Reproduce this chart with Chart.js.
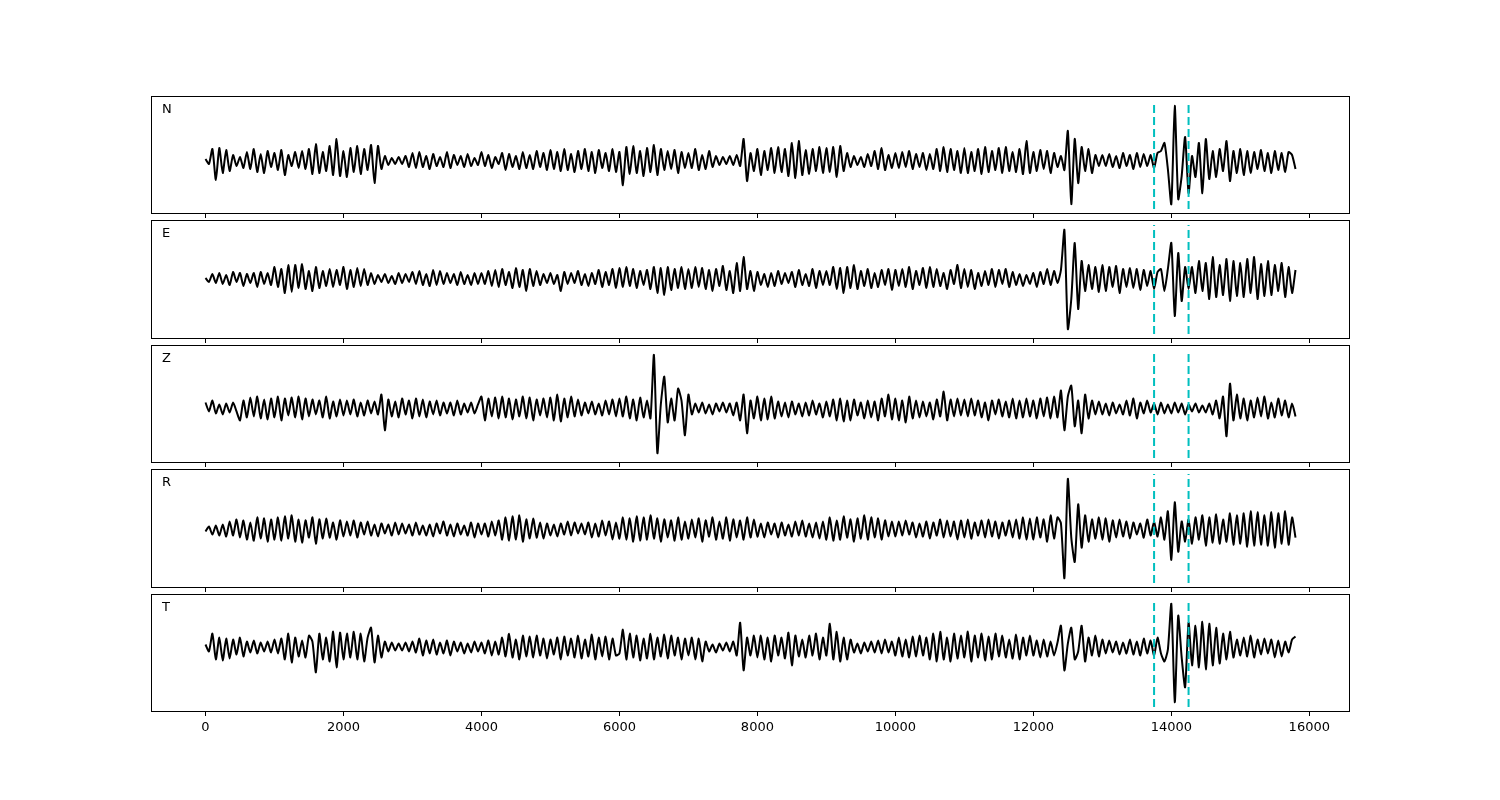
<!DOCTYPE html>
<html>
<head>
<meta charset="utf-8">
<script src="https://cdn.jsdelivr.net/npm/chart.js@4.4.0/dist/chart.umd.min.js"></script>
<style>
  body { margin: 0; background: #fff; }
  .panel { position: absolute; left: 0; width: 1500px; }
</style>
</head>
<body>
<script>
// sample spacing of the traces (x units)
const step = 50;
const channels = ['N', 'E', 'Z', 'R', 'T'];
const pickTimes = [13750, 14250];
const tickValues = [0, 2000, 4000, 6000, 8000, 10000, 12000, 14000, 16000];

// amplitudes, one row per 1000 x units
const traceN = [
  2, -3, 12, -19, 13, -12, 11, -10, 6, -5, 4, -7, 9, -8, 12, -11, 7, -12, 10, -6,
  8, -9, 11, -14, 6, -5, 9, -7, 10, -8, 12, -13, 17, -12, 9, -10, 15, -14, 22, -15,
  10, -16, 13, -11, 15, -13, 12, -9, 16, -22, 15, -8, 5, -4, 3, -3, 4, -3, 5, -6,
  8, -7, 9, -6, 5, -8, 7, -5, 4, -6, 9, -7, 6, -4, 5, -6, 7, -5, 3, -4,
  9, -5, 6, -7, 4, -3, 8, -9, 7, -6, 5, -8, 9, -7, 6, -8, 10, -6, 8, -9,
  11, -8, 9, -10, 12, -9, 7, -11, 10, -8, 12, -10, 9, -12, 11, -7, 8, -10, 12, -11,
  9, -24, 14, -13, 15, -12, 10, -15, 13, -11, 16, -14, 12, -9, 10, -8, 11, -12, 9, -7,
  8, -7, 12, -9, 6, -8, 10, -6, 5, -4, 4, -3, 5, -4, 6, -5, 22, -20, 8, -10,
  12, -14, 10, -9, 13, -12, 14, -11, 12, -15, 18, -17, 20, -14, 11, -13, 12, -10, 14, -12,
  13, -11, 14, -16, 15, -10, 8, -6, 5, -4, 4, -6, 7, -5, 10, -8, 13, -9, 6, -7,
  8, -7, 9, -6, 10, -8, 7, -6, 8, -9, 7, -8, 12, -10, 14, -11, 12, -9, 10, -12,
  13, -12, 9, -10, 12, -13, 14, -11, 10, -9, 13, -12, 14, -10, 9, -11, 12, -13, 20, -12,
  9, -10, 11, -8, 10, -12, 8, -6, 5, -9, 30, -43, 22, -22, 14, -10, 12, -12, 6, -5,
  6, -5, 7, -6, 5, -7, 8, -5, 6, -8, 8, -6, 7, -5, 6, -7, 8, 10, 18, -8,
  -43, 55, -38, -15, 24, -32, 5, -16, 18, -32, 22, -18, 10, -16, 12, -10, 20, -20, 10, -12,
  12, -14, 10, -12, 9, -8, 11, -10, 8, -12, 10, -9, 8, -11, 9, 6, -8
];

const traceE = [
  1, -3, 5, -4, 6, -5, 4, -6, 7, -3, 6, -7, 5, -4, 6, -8, 7, -5, 6, -6,
  12, -8, 10, -14, 14, -13, 14, -9, 15, -10, 8, -12, 12, -9, 8, -7, 10, -8, 9, -6,
  12, -10, 9, -8, 11, -7, 10, -6, 6, -5, 4, -3, 5, -4, 3, -5, 6, -4, 5, -3,
  7, -5, 8, -6, 5, -7, 9, -6, 8, -5, 6, -4, 5, -6, 7, -5, 4, -6, 6, -5,
  6, -5, 8, -7, 9, -8, 10, -6, 7, -9, 11, -8, 9, -12, 10, -7, 8, -6, 5, -4,
  6, -5, 4, -12, 7, -5, 6, -4, 8, -6, 5, -7, 6, -5, 9, -8, 7, -6, 10, -9,
  11, -8, 12, -7, 10, -9, 8, -6, 9, -10, 12, -14, 11, -16, 12, -11, 10, -9, 12, -10,
  10, -9, 12, -8, 11, -10, 9, -12, 10, -7, 13, -11, 8, -14, 16, -12, 22, -10, 8, -12,
  7, -6, 5, -8, 6, -7, 8, -5, 6, -4, 7, -8, 9, -6, 5, -7, 10, -9, 8, -6,
  8, -6, 12, -10, 11, -14, 12, -9, 14, -10, 8, -7, 10, -9, 6, -8, 9, -6, 10, -11,
  9, -7, 10, -8, 12, -10, 8, -6, 11, -9, 12, -8, 10, -7, 6, -10, 9, -5, 14, -9,
  10, -8, 9, -10, 6, -7, 8, -6, 10, -8, 9, -5, 10, -8, 7, -6, 5, -7, 4, -5,
  6, -8, 7, -5, 10, -6, 8, -4, 9, 49, -50, -20, 36, -30, 18, -12, 14, -10, 12, -13,
  14, -12, 12, -8, 13, -14, 10, -8, 11, -9, 10, -11, 9, -7, 8, -10, 7, 10, -12, 10,
  36, -37, 26, -22, 12, -10, 12, -14, 18, -12, 16, -20, 22, -18, 14, -16, 20, -22, 18, -17,
  16, -18, 20, -14, 22, -20, 15, -17, 18, -16, 14, -12, 16, -18, 12, -14, 9
];

const traceZ = [
  6, -3, 8, -5, 4, -6, 5, -4, 6, -3, -12, 8, -9, 11, -8, 12, -10, 9, -11, 10,
  -9, 12, -12, 10, -7, 11, -9, 12, -11, 10, -8, 9, -6, 8, -9, 12, -10, 7, -8, 9,
  -7, 8, -6, 9, -8, 6, -7, 8, -5, 7, -6, 14, -22, 9, -8, 7, -9, 10, -6, 8,
  -10, 10, -8, 9, -9, 7, -6, 8, -7, 6, -5, 6, -7, 8, -6, 5, -4, 6, -5, 4,
  12, -12, 10, -8, 11, -10, 12, -9, 10, -11, 9, -8, 12, -10, 11, -12, 9, -7, 10, -9,
  11, -12, 14, -13, 10, -9, 12, -8, 9, -7, 6, -5, 7, -6, 5, -7, 8, -6, 9, -8,
  10, -8, 12, -10, 9, -12, 11, -9, 8, -10, 54, -45, 4, 32, -14, 10, -12, 20, 8, -27,
  14, -6, 5, -4, 6, -5, 4, -6, 5, -3, 6, -4, 5, -7, 6, -12, 14, -25, 8, -10,
  12, -12, 10, -11, 12, -10, 7, -8, 6, -9, 7, -6, 5, -8, 6, -7, 8, -6, 5, -9,
  7, -8, 9, -12, 10, -13, 8, -12, 9, -7, 6, -10, 8, -9, 7, -12, 10, -8, 14, -11,
  10, -12, 8, -14, 12, -10, 8, -9, 7, -8, 6, -11, 9, -8, 17, -12, 9, -8, 10, -7,
  9, -8, 10, -7, 8, -9, 6, -12, 8, -6, 9, -8, 7, -9, 10, -10, 8, -9, 10, -8,
  8, -10, 10, -8, 11, -10, 12, -9, 18, -22, 12, 23, -18, 8, -25, 14, -10, 8, -6, 7,
  -6, 5, -7, 6, -5, 4, -6, 8, -7, 10, -10, 6, -5, 8, -4, 5, -6, 6, -5, 4,
  -5, 6, -4, 5, -6, 4, -3, 5, -4, 3, -4, 5, -6, 8, -10, 12, -28, 25, -12, 14,
  -10, 10, -12, 8, -9, 11, -8, 12, -10, 6, -9, 10, -7, 8, -9, 5, -8
];

const traceR = [
  -2, 3, -5, 4, -6, 5, -7, 8, -6, 10, -8, 9, -10, 7, -11, 12, -9, 11, -12, 10,
  -10, 12, -11, 13, -9, 14, -12, 10, -13, 9, -8, 12, -14, 10, -9, 11, -8, 7, -10, 9,
  -7, 8, -6, 9, -8, 7, -5, 8, -6, 5, -7, 6, -4, 5, -6, 7, -5, 6, -4, 5,
  -6, 7, -5, 4, -6, 5, -7, 6, -4, 8, -6, 5, -7, 6, -5, 4, -6, 7, -8, 6,
  -5, 6, -7, 8, -6, 9, -10, 12, -11, 13, -10, 14, -12, 10, -9, 11, -8, 7, -9, 6,
  -6, 5, -7, 6, -5, 8, -6, 7, -4, 6, -5, 7, -8, 6, -7, 9, -6, 8, -10, 7,
  -9, 12, -10, 11, -12, 13, -11, 12, -10, 14, -9, 11, -12, 10, -8, 9, -11, 12, -10, 8,
  -9, 10, -8, 11, -12, 9, -7, 12, -10, 8, -9, 12, -11, 10, -8, 9, -10, 12, -8, 10,
  -7, 6, -8, 7, -5, 6, -8, 7, -6, 5, -7, 8, -6, 9, -7, 6, -8, 7, -9, 8,
  -10, 12, -11, 9, -10, 13, -8, 10, -12, 11, -9, 14, -10, 12, -8, 11, -10, 9, -7, 8,
  -7, 8, -6, 9, -5, 7, -8, 6, -7, 8, -9, 7, -6, 10, -8, 9, -7, 8, -10, 9,
  -8, 10, -9, 7, -6, 9, -8, 10, -7, 8, -9, 7, -6, 9, -8, 10, -9, 12, -10, 11,
  -10, 12, -8, 10, -12, 14, -9, 12, 6, -48, 50, -8, -32, 25, -18, 14, -12, 10, -9, 12,
  -10, 11, -12, 9, -8, 10, -7, 8, -9, 7, -5, 6, -8, 10, -6, 8, -7, 12, -10, 18,
  -30, 27, -22, 8, -12, 10, -14, 12, -10, 14, -16, 12, -13, 15, -14, 10, -12, 16, -15, 14,
  -14, 16, -17, 18, -16, 17, -15, 14, -16, 17, -18, 16, -14, 18, -15, 12, -8
];

const traceT = [
  3, -4, 14, -12, 10, -13, 9, -11, 8, -7, 10, -9, 6, -5, 7, -6, 5, -4, 6, -5,
  8, -6, 9, -12, 14, -15, 10, -9, 7, -10, 12, 6, -25, 14, -12, 10, -14, 16, -20, 15,
  -12, 14, -10, 16, -12, 14, -14, 10, 20, -15, 12, -10, 6, -4, 5, -3, 4, -3, 5, -4,
  6, -5, 9, -8, 7, -6, 8, -7, 5, -6, 7, -8, 6, -4, 5, -6, 4, -5, 6, -4,
  5, -6, 7, -8, 6, -7, 10, -9, 14, -10, 8, -12, 12, -9, 11, -10, 12, -8, 9, -11,
  8, -7, 10, -12, 11, -8, 9, -10, 12, -11, 8, -9, 13, -12, 10, -9, 11, -12, 9, -8,
  -6, 18, -12, 14, -10, 12, -13, 9, -11, 14, -12, 10, -9, 13, -11, 12, -8, 10, -12, 9,
  -8, 10, -12, 9, -14, 6, -4, 3, -5, 4, -3, 5, -4, 6, -8, 25, -23, 10, -8, 12,
  -10, 12, -12, 10, -14, 12, -8, 10, -11, 15, -18, 12, -9, 8, -10, 12, -8, 14, -12, 10,
  -8, 24, -12, 16, -14, 10, -12, 8, -5, 4, -6, 5, -4, 6, -5, 7, -6, 8, -5, 6,
  -8, 10, -9, 8, -10, 11, -9, 12, -8, 10, -12, 14, -14, 16, -12, 10, -14, 14, -11, 12,
  -10, 16, -14, 12, -10, 14, -13, 11, -12, 14, -9, 12, -10, 8, -11, 13, -12, 10, -8, 12,
  -8, 7, -10, 8, -9, 6, -8, 5, 22, -23, 4, 20, -12, -4, 22, -14, 10, -8, 12, -9,
  8, -6, 7, -5, 6, -7, 5, -6, 8, -7, 6, -8, 9, -6, 7, -8, 10, -6, -14, -2,
  44, -55, 32, -10, -40, 25, -18, 22, -20, 26, -22, 24, -18, 20, -16, 14, -12, 16, -10, 8,
  -8, 10, -9, 12, -10, 8, -7, 9, -6, 8, -10, 7, -9, 6, -5, 8, 11
];

const traces = [traceN, traceE, traceZ, traceR, traceT];

// layout of the five stacked panels (page pixels)
const panelTops = [96, 220, 345, 469, 594];
const panelHeights = [118, 119, 118, 119, 118];
const xMin = -790, xMax = 16590;

// frame + channel letter
const framePlugin = {
  id: 'frame',
  afterDraw(chart, args, opts) {
    const { ctx, chartArea: a } = chart;
    ctx.save();
    ctx.strokeStyle = '#000';
    ctx.lineWidth = 1;
    ctx.strokeRect(a.left + 0.5, a.top + 0.5, a.right - a.left - 1, a.bottom - a.top - 1);
    ctx.fillStyle = '#000';
    ctx.font = '13px "DejaVu Sans"';
    ctx.textBaseline = 'alphabetic';
    ctx.fillText(opts.label, a.left + 11, a.top + 17);
    ctx.restore();
  }
};

traces.forEach(function(trace, i) {
  const isLast = i === traces.length - 1;
  const axisH = isLast ? 30 : 6;
  const div = document.createElement('div');
  div.className = 'panel';
  div.style.top = (panelTops[i] - 4) + 'px';
  div.style.height = (panelHeights[i] + 4 + axisH) + 'px';
  const canvas = document.createElement('canvas');
  div.appendChild(canvas);
  document.body.appendChild(div);

  const lo = Math.min(...trace), hi = Math.max(...trace);
  const span = hi - lo;
  const yMin = lo - span * 0.1, yMax = hi + span * 0.1;
  const vLo = lo - span * 0.05, vHi = hi + span * 0.05;

  const datasets = [{
    data: trace.map((v, k) => ({ x: k * step, y: v })),
    borderColor: '#000',
    borderWidth: 2,
    pointRadius: 0,
    tension: 0.2,
    order: 2
  }];
  pickTimes.forEach(function(t) {
    datasets.push({
      data: [{ x: t, y: vLo }, { x: t, y: vHi }],
      borderColor: '#00bfbf',
      borderWidth: 2,
      borderDash: [8, 4],
      pointRadius: 0,
      order: 1
    });
  });

  new Chart(canvas, {
    type: 'line',
    data: { datasets: datasets },
    plugins: [framePlugin],
    options: {
      responsive: true,
      maintainAspectRatio: false,
      animation: false,
      layout: { padding: { left: 151, right: 150, top: 4, bottom: 0 } },
      plugins: {
        legend: { display: false },
        tooltip: { enabled: false },
        frame: { label: channels[i] }
      },
      scales: {
        x: {
          type: 'linear',
          min: xMin,
          max: xMax,
          afterBuildTicks: function(scale) {
            scale.ticks = tickValues.map(v => ({ value: v }));
          },
          afterFit: function(scale) { scale.height = axisH; },
          border: { display: false },
          grid: {
            display: true,
            drawOnChartArea: false,
            drawTicks: true,
            tickLength: 4,
            color: '#000',
            lineWidth: 1
          },
          ticks: {
            display: isLast,
            color: '#000',
            padding: 4,
            maxRotation: 0,
            font: { family: 'DejaVu Sans', size: 13 },
            callback: function(value) { return String(value); }
          }
        },
        y: {
          display: false,
          min: yMin,
          max: yMax
        }
      }
    }
  });
});
</script>
</body>
</html>
